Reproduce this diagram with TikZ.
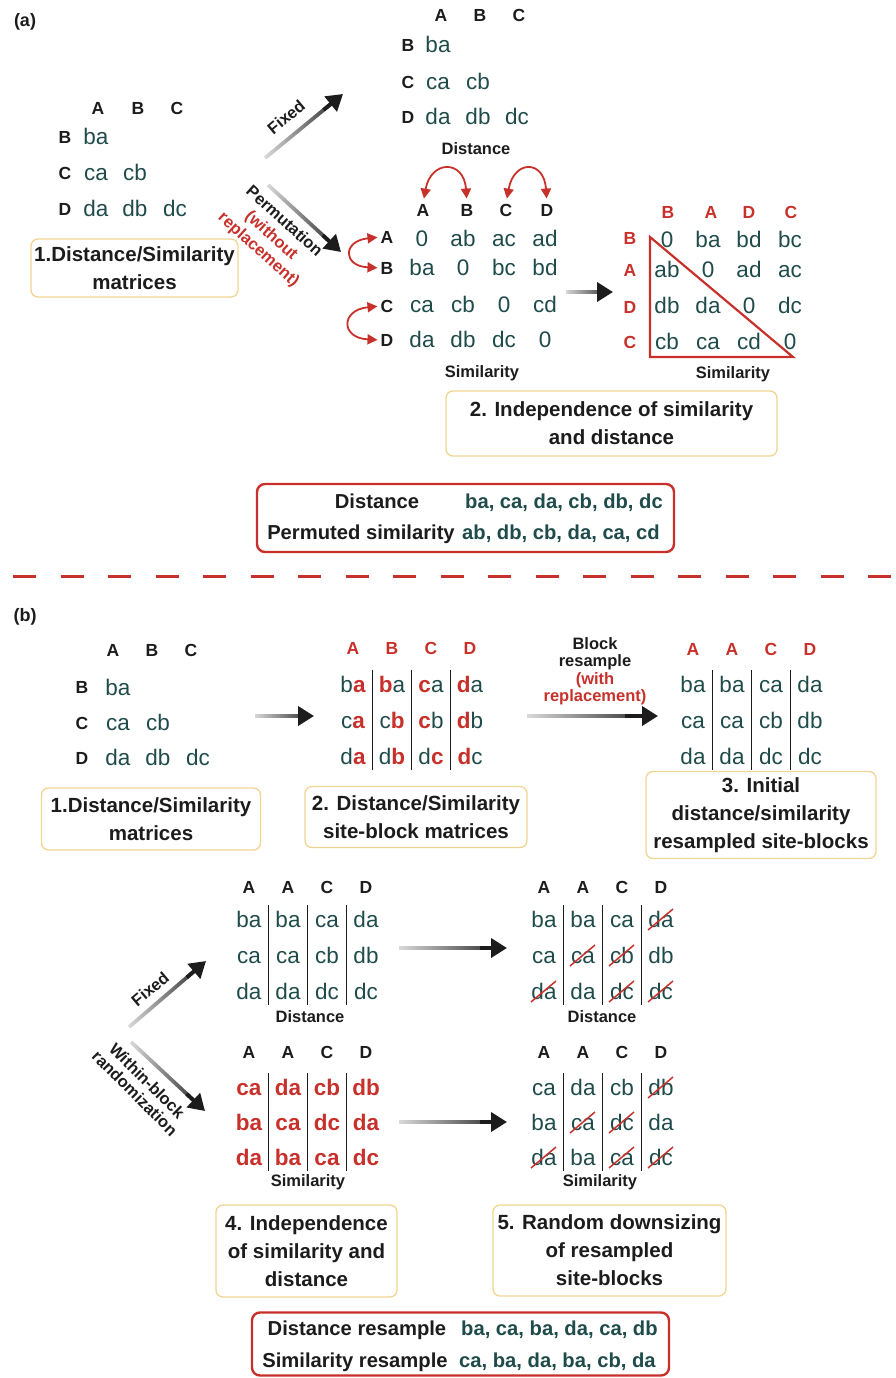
\documentclass[tikz,border=0pt]{standalone}
\usepackage{fontspec}
\setmainfont{Liberation Sans}
\usetikzlibrary{positioning,arrows.meta,fadings,calc}
\definecolor{ink}{HTML}{1C1C1C}
\definecolor{cell}{HTML}{1F4B4A}
\definecolor{alert}{HTML}{C8312B}
\definecolor{boxline}{HTML}{F0D590}

\newcommand\fsz[2]{\fontsize{#1}{#2}\selectfont}
\newcommand\hi[1]{\textcolor{alert}{\bfseries #1}}
\tikzfading[name=fadein,left color=transparent!85,right color=transparent!0]

% one site-block matrix: name, x of first column, y of first row, row step, style, rows
\newcommand\siteblock[6]{%
  \foreach \row [count=\r] in {#6}{
    \foreach \t [count=\c] in \row
      \node[#5] (#1\r\c) at ({#2+39*(\c-1)},{#3+#4*(\r-1)}) {\t};}
  \foreach \c in {1,2,3}
    \draw[bar] ({#2+39*\c-19.5},{#3-15}) -- ({#2+39*\c-19.5},{#3+2*#4+13});}

% fading shaft, solid head
\newcommand\flowarrow[2]{%
  \draw[flow] (#1) -- (#2);
  \draw[flowtip] ($(#1)!0.75!(#2)$) -- (#2);}

\tikzset{
  cellt/.style={text=cell,font=\fsz{22.5}{25},inner sep=0pt,text height=15pt,text depth=0pt},
  cellr/.style={cellt,text=alert,font=\fsz{22.5}{25}\bfseries},
  hd/.style={text=ink,font=\fsz{17.5}{20}\bfseries,inner sep=0pt,text height=12.5pt,text depth=0pt},
  rhd/.style={hd,text=alert},
  lab/.style={text=ink,font=\fsz{16.5}{19}\bfseries,inner sep=0pt},
  stepbox/.style={draw=boxline,line width=1.3pt,rounded corners=7pt,align=center,
    font=\fsz{20.5}{28}\bfseries,text=ink,inner sep=0pt},
  sumbox/.style={draw=alert,line width=2.4pt,rounded corners=8pt,inner sep=0pt},
  sumkey/.style={text=ink,font=\fsz{20.2}{22}\bfseries,inner sep=0pt,text height=14pt,text depth=4pt},
  sumval/.style={sumkey,text=cell,anchor=west},
  flow/.style={line width=3.8pt,draw=ink,path fading=fadein,shorten >=8pt},
  flowtip/.style={line width=3.8pt,draw=ink,-{Triangle[length=16pt,width=19pt]}},
  swapper/.style={draw=alert,line width=1.8pt,
    {Triangle[length=10pt,width=10pt]}-{Triangle[length=10pt,width=10pt]}},
  cross/.style={draw=alert,line width=1.5pt},
  bar/.style={draw=ink,line width=1.8pt},
  turn/.style={font=\fsz{16.5}{17.5}\bfseries,text=ink,align=center,inner sep=0pt},
  panel/.style={font=\fsz{18}{20}\bfseries,text=ink,inner sep=0pt},
}

\begin{document}
\begin{tikzpicture}[x=1pt,y=-1pt]
  \useasboundingbox (0,0) rectangle (896,1378);

  %%% (a)
  \node[panel] (pa) at (25,22) {(a)};

  \foreach \x/\c in {98/A,138/B,177/C}
    \node[hd] (rh\c) at (\x,108) {\c};
  \foreach \y/\r in {137/B,173/C,209/D}
    \node[hd] (rr\r) at (65,\y) {\r};
  \foreach \x/\y/\t in {96/137/ba,96/173/ca,135/173/cb,96/209/da,135/209/db,175/209/dc}
    \node[cellt] (r\t) at (\x,\y) {\t};
  \node[stepbox,minimum width=207pt,minimum height=58pt] (box1) at (134.5,268)
    {1.Distance/Similarity\\matrices};

  \coordinate (fx0) at (265,158);
  \coordinate (fx1) at (343,94);
  \flowarrow{fx0}{fx1}
  \node[turn,rotate=40] (fxl) at (286,117) {Fixed};
  \coordinate (pm0) at (268,185);
  \coordinate (pm1) at (341,252);
  \flowarrow{pm0}{pm1}
  \node[turn,rotate=-42,font=\fsz{16.5}{19}\bfseries] (pml) at (271,236)
    {Permutation\\\textcolor{alert}{(without}\\\textcolor{alert}{replacement)}};

  % distance stays as it is
  \foreach \x/\c in {441/A,480/B,519/C}
    \node[hd] (dh\c) at (\x,15) {\c};
  \foreach \y/\r in {45/B,82/C,117/D}
    \node[hd] (dr\r) at (408,\y) {\r};
  \foreach \x/\y/\t in {438/45/ba,438/82/ca,478/82/cb,438/117/da,478/117/db,517/117/dc}
    \node[cellt] (d\t) at (\x,\y) {\t};
  \node[lab] (dlab) at (476,149) {Distance};

  % similarity with rows and columns swapped
  \foreach \x/\c in {423/A,467/B,506/C,547/D}
    \node[hd] (sh\c) at (\x,210) {\c};
  \foreach \y/\r in {237/A,268/B,306/C,340/D}
    \node[hd] (sr\r) at (387,\y) {\r};
  \foreach \y/\r/\row in {239/A/{0,ab,ac,ad},268/B/{ba,0,bc,bd},305/C/{ca,cb,0,cd},340/D/{da,db,dc,0}}
    \foreach \t [count=\c] in \row
      \node[cellt] (s\r\c) at ({422+41*(\c-1)},\y) {\t};
  \node[lab] (slab) at (482,373) {Similarity};

  \draw[swapper,shorten <=5pt,shorten >=5pt] (shA.north) .. controls +(8,-44) and +(-3,-44) .. (shB.north);
  \draw[swapper,shorten <=5pt,shorten >=5pt] (shC.north) .. controls +(8,-44) and +(-3,-44) .. (shD.north);
  \draw[swapper,shorten <=3pt,shorten >=3pt] (srA.west) .. controls +(-38,4) and +(-38,-2) .. (srB.west);
  \draw[swapper,shorten <=3pt,shorten >=3pt] (srC.west) .. controls +(-40,4) and +(-40,-2) .. (srD.west);

  \coordinate (sp0) at (566,292);
  \coordinate (sp1) at (613,292);
  \flowarrow{sp0}{sp1}

  \foreach \x/\c in {668/B,711/A,749/D,791/C}
    \node[rhd] (ph\c) at (\x,212) {\c};
  \foreach \y/\r in {238/B,270/A,307/D,342/C}
    \node[rhd] (pr\r) at (630,\y) {\r};
  \foreach \y/\r/\row in {240/B/{0,ba,bd,bc},270/A/{ab,0,ad,ac},306/D/{db,da,0,dc},342/C/{cb,ca,cd,0}}
    \foreach \t [count=\c] in \row
      \node[cellt] (p\r\c) at ({667+41*(\c-1)},\y) {\t};
  \draw[alert,line width=2.2pt] (650,237) -- (650,357) -- (793,357) -- cycle;
  \node[lab] (plab) at (733,374) {Similarity};

  \node[stepbox,minimum width=331pt,minimum height=65pt] (box2) at (611.5,423.5)
    {2. Independence of similarity\\and distance};

  \node[sumbox,minimum width=417pt,minimum height=68pt] (sum1) at (465.5,518) {};
  \node[sumkey] (k1) at (377,503) {Distance};
  \node[sumkey] (k2) at (361,534) {Permuted similarity};
  \node[sumval] (v1) at (465,503) {ba, ca, da, cb, db, dc};
  \node[sumval] (v2) at (462,534) {ab, db, cb, da, ca, cd};

  \draw[alert,line width=3pt,dash pattern=on 23pt off 24.5pt] (13,576) -- (896,576);

  %%% (b)
  \node[panel] (pb) at (25,617) {(b)};

  \foreach \x/\c in {113/A,152/B,191/C}
    \node[hd] (bh\c) at (\x,650) {\c};
  \foreach \y/\r in {687/B,723/C,758/D}
    \node[hd] (br\r) at (82,\y) {\r};
  \foreach \x/\y/\t in {118/688/ba,118/723/ca,158/723/cb,118/758/da,158/758/db,198/758/dc}
    \node[cellt] (b\t) at (\x,\y) {\t};
  \node[stepbox,minimum width=219pt,minimum height=62pt] (box3) at (151,819)
    {1.Distance/Similarity\\matrices};

  \coordinate (bb0) at (255,716);
  \coordinate (bb1) at (314,716);
  \flowarrow{bb0}{bb1}

  \foreach \c [count=\i] in {A,B,C,D}
    \node[rhd] (sbh\i) at ({353+39*(\i-1)},648) {\c};
  \siteblock{sb}{353}{685}{36}{cellt}{{b\hi{a},\hi{b}a,\hi{c}a,\hi{d}a},{c\hi{a},c\hi{b},\hi{c}b,\hi{d}b},{d\hi{a},d\hi{b},d\hi{c},\hi{d}c}}
  \node[stepbox,minimum width=222pt,minimum height=61pt] (box4) at (416,817)
    {2. Distance/Similarity\\site-block matrices};

  \coordinate (rs0) at (527,716);
  \coordinate (rs1) at (658,716);
  \flowarrow{rs0}{rs1}
  \node[turn] (rsl) at (595,671)
    {Block\\resample\\\textcolor{alert}{(with}\\\textcolor{alert}{replacement)}};

  \foreach \c [count=\i] in {A,A,C,D}
    \node[rhd] (rsh\i) at ({693+39*(\i-1)},649) {\c};
  \siteblock{rs}{693}{685}{36}{cellt}{{ba,ba,ca,da},{ca,ca,cb,db},{da,da,dc,dc}}
  \node[stepbox,minimum width=230pt,minimum height=87pt] (box5) at (761,815)
    {3. Initial\\distance/similarity\\resampled site-blocks};

  % fixed distance, shuffled similarity
  \coordinate (fb0) at (129,1027);
  \coordinate (fb1) at (206,961);
  \flowarrow{fb0}{fb1}
  \node[turn,rotate=40] (fbl) at (150,989) {Fixed};
  \coordinate (wb0) at (131,1042);
  \coordinate (wb1) at (205,1111);
  \flowarrow{wb0}{wb1}
  \node[turn,rotate=-45] (wbl) at (141,1087) {Within-block\\randomization};

  \foreach \c [count=\i] in {A,A,C,D}
    \node[hd] (fdh\i) at ({249+39*(\i-1)},887) {\c};
  \siteblock{fd}{249}{920}{36}{cellt}{{ba,ba,ca,da},{ca,ca,cb,db},{da,da,dc,dc}}
  \node[lab] (fdl) at (310,1017) {Distance};

  \foreach \c [count=\i] in {A,A,C,D}
    \node[hd] (fsh\i) at ({249+39*(\i-1)},1052) {\c};
  \siteblock{fs}{249}{1088}{35}{cellr}{{ca,da,cb,db},{ba,ca,dc,da},{da,ba,ca,dc}}
  \node[lab] (fsl) at (308,1182) {Similarity};

  \coordinate (dn0) at (399,948);
  \coordinate (dn1) at (507,948);
  \flowarrow{dn0}{dn1}
  \coordinate (sn0) at (399,1122);
  \coordinate (sn1) at (507,1122);
  \flowarrow{sn0}{sn1}

  % downsized copies
  \foreach \c [count=\i] in {A,A,C,D}
    \node[hd] (ddh\i) at ({544+39*(\i-1)},887) {\c};
  \siteblock{dd}{544}{920}{36}{cellt}{{ba,ba,ca,da},{ca,ca,cb,db},{da,da,dc,dc}}
  \node[lab] (ddl) at (602,1017) {Distance};

  \foreach \c [count=\i] in {A,A,C,D}
    \node[hd] (dsh\i) at ({544+39*(\i-1)},1052) {\c};
  \siteblock{ds}{544}{1088}{35}{cellt}{{ca,da,cb,db},{ba,ca,dc,da},{da,ba,ca,dc}}
  \node[lab] (dsl) at (600,1182) {Similarity};

  \foreach \n in {dd14,dd22,dd23,dd31,dd33,dd34,ds14,ds22,ds23,ds31,ds33,ds34}
    \draw[cross] ([shift={(-13,10)}]\n.center) -- ([shift={(12,-11)}]\n.center);

  \node[stepbox,minimum width=181pt,minimum height=92pt] (box6) at (306.5,1251)
    {4. Independence\\of similarity and\\distance};
  \node[stepbox,minimum width=233pt,minimum height=91pt] (box7) at (609.5,1250.5)
    {5. Random downsizing\\of resampled\\site-blocks};

  \node[sumbox,minimum width=417pt,minimum height=63pt] (sum2) at (460.5,1344) {};
  \node[sumkey] (k3) at (357,1330) {Distance resample};
  \node[sumkey] (k4) at (355,1362) {Similarity resample};
  \node[sumval] (v3) at (461,1330) {ba, ca, ba, da, ca, db};
  \node[sumval] (v4) at (459,1362) {ca, ba, da, ba, cb, da};
\end{tikzpicture}
\end{document}
